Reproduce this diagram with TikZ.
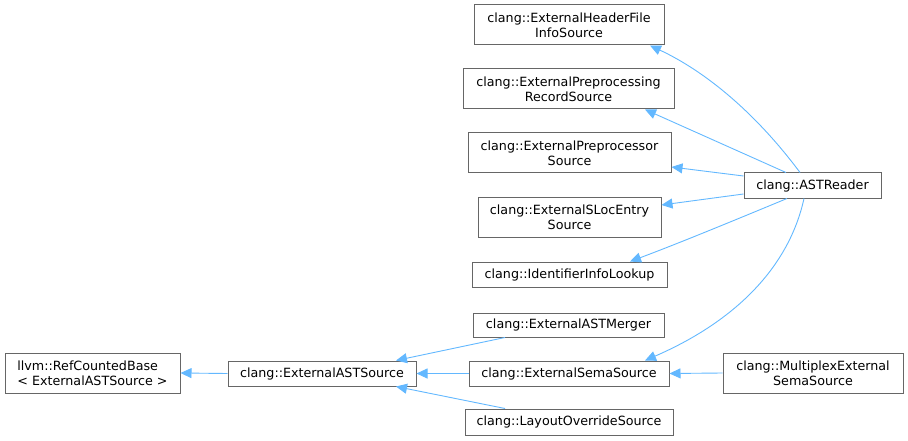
\documentclass[tikz,border=0pt]{standalone}
\usepackage{fontspec}
\setmainfont{DejaVu Sans}
\usetikzlibrary{arrows.meta}
\definecolor{edgeblue}{HTML}{63B8FF}
\definecolor{boxgray}{HTML}{666666}
\begin{document}
\begin{tikzpicture}[x=1pt,y=1pt,
    cls/.style={draw=boxgray,line width=1pt,fill=white,inner sep=0pt,align=center,
      font=\fontsize{12.7}{15}\selectfont},
    inh/.style={draw=edgeblue,line width=0.9pt,-{Triangle[length=11pt,width=10pt]}}]
  \useasboundingbox (0,0) rectangle (908,-441);
  % base classes
  \node[cls,align=left,minimum width=175pt,minimum height=40pt](refbase)at(92.5,-373){llvm::RefCountedBase\\< ExternalASTSource >};
  \node[cls,minimum width=188pt,minimum height=25pt](astsrc)at(322,-373.5){clang::ExternalASTSource};
  % middle column
  \foreach \n/\x/\y/\w/\h/\t in {
      hdrinfo/569/25/190/40/{clang::ExternalHeaderFile\\InfoSource},
      pprec/568.5/89/211/40/{clang::ExternalPreprocessing\\RecordSource},
      ppsrc/569.5/153/203/40/{clang::ExternalPreprocessor\\Source},
      sloc/569.5/217/183/40/{clang::ExternalSLocEntry\\Source},
      idlookup/569.5/274.5/195/25/{clang::IdentifierInfoLookup},
      merger/568.5/325/191/24/{clang::ExternalASTMerger},
      semasrc/569/373.5/200/25/{clang::ExternalSemaSource},
      layout/569/422/208/26/{clang::LayoutOverrideSource}}{
    \node[cls,minimum width=\w pt,minimum height=\h pt](\n)at(\x,-\y){\t};
  }
  % derived classes
  \node[cls,minimum width=137pt,minimum height=25pt](reader)at(812.5,-185.5){clang::ASTReader};
  \node[cls,minimum width=180pt,minimum height=40pt](multiplex)at(813,-373){clang::MultiplexExternal\\SemaSource};
  % inheritance
  \draw[inh](astsrc.west)--(refbase.east);
  \draw[inh]([xshift=-63.5pt]merger.south)--([xshift=74pt]astsrc.north);
  \draw[inh](semasrc.west)--(astsrc.east);
  \draw[inh]([xshift=-64pt]layout.north)--([xshift=74pt]astsrc.south);
  \draw[inh](multiplex.west)--(semasrc.east);
  \draw[inh]([xshift=-12.5pt]reader.north)..controls(756.7,-114.3)and(706.7,-72)..([xshift=81pt]hdrinfo.south);
  \draw[inh]([xshift=-26.5pt]reader.north)--([xshift=76.5pt]pprec.south);
  \draw[inh]([yshift=9.5pt]reader.west)--([yshift=-14pt]ppsrc.east);
  \draw[inh]([yshift=-8.5pt]reader.west)--([yshift=12pt]sloc.east);
  \draw[inh]([xshift=-25.5pt]reader.south)..controls(727.3,-223.3)and(675,-244.7)..([xshift=60.5pt]idlookup.north);
  \draw[inh]([xshift=-8.5pt]reader.south)..controls(789,-266.7)and(736,-321)..([xshift=76pt]semasrc.north);
\end{tikzpicture}
\end{document}
